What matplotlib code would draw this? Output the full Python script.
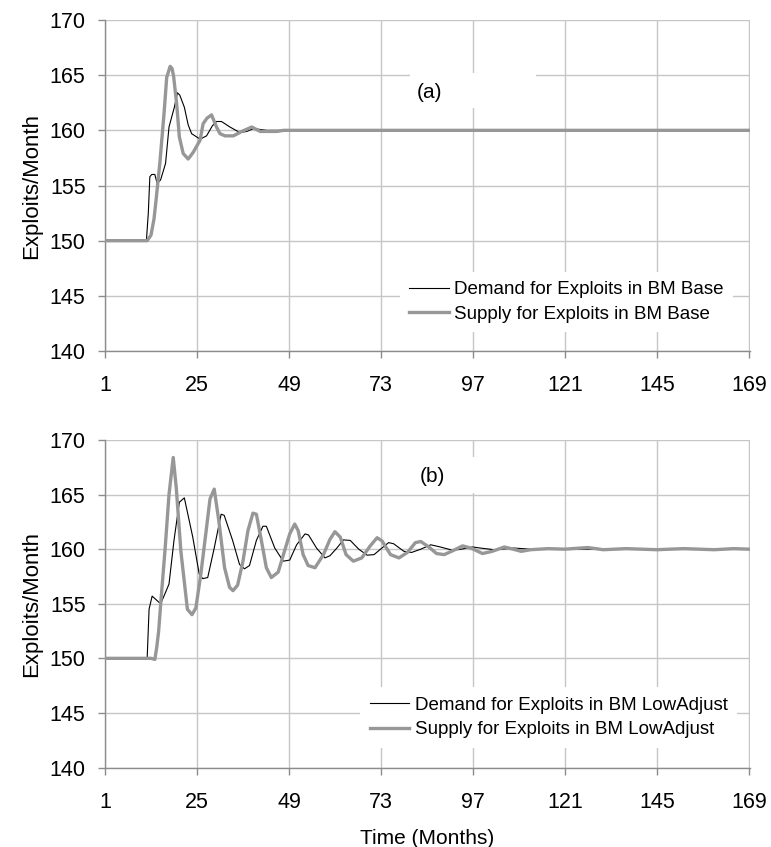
import matplotlib
matplotlib.use("Agg")
import matplotlib.pyplot as plt
from matplotlib.patches import Rectangle

plt.rcParams['font.family'] = ['Liberation Sans', 'DejaVu Sans']

# ---------------- data ----------------
xticks = [1, 25, 49, 73, 97, 121, 145, 169]
yticks = [140, 145, 150, 155, 160, 165, 170]

# Panel (a) : BM Base
a_demand_t = [1, 11.8, 12.3, 12.7, 13.2, 14.0, 14.6, 15.5, 16.8, 17.7, 19.1, 19.9, 20.5,
              21.7, 22.7, 23.6, 25.8, 27.5, 29.0, 30.1, 31.4, 33.6, 36.2, 38.0, 39.7,
              41.0, 43.2, 169]
a_demand_v = [150, 150, 152.5, 155.8, 156.0, 156.0, 155.2, 155.5, 157.0, 160.3, 162.1, 163.4, 163.2,
              162.1, 160.5, 159.7, 159.2, 159.5, 160.4, 160.8, 160.8, 160.3, 159.8, 159.9, 160.15,
              160.1, 160.0, 160]
a_supply_t = [1, 12.0, 13.0, 13.8, 14.3, 15.3, 16.4, 17.1, 18.0, 18.5, 18.9, 19.7, 20.4,
              21.4, 22.7, 24.0, 25.8, 26.6, 27.6, 28.8, 30.1, 31.0, 32.3, 34.5, 36.7,
              39.3, 41.5, 45.8, 47.6, 169]
a_supply_v = [150, 150, 150.5, 152.0, 153.6, 157.0, 161.5, 164.8, 165.8, 165.6, 164.9, 162.4, 159.4,
              157.9, 157.4, 158.0, 159.1, 160.6, 161.1, 161.4, 160.3, 159.7, 159.5, 159.5, 159.9,
              160.3, 159.9, 159.9, 160.0, 160]

# Panel (b) : BM LowAdjust
b_demand_t = [1, 12.0, 12.5, 13.3, 15.5, 16.5, 17.7, 19.0, 20.4, 21.7, 23.9, 25.6, 26.5,
              27.8, 29.5, 31.3, 32.1, 34.3, 36.1, 37.4, 38.7, 40.5, 42.2, 43.1, 45.3,
              47.5, 49.2, 51.0, 53.2, 54.1, 56.2, 58.4, 59.7, 61.5, 63.2, 65.0, 67.2,
              69.4, 71.2, 72.9, 75.0, 76.3, 79.0, 81.0, 83.4, 86.0, 88.5, 91.7, 94.0,
              96.9, 99.0, 102.5, 107.8, 112.0, 169]
b_demand_v = [150, 150, 154.5, 155.7, 155.0, 155.8, 156.8, 160.8, 164.3, 164.7, 161.1, 157.7, 157.3,
              157.4, 160.1, 163.2, 163.1, 160.8, 158.6, 158.2, 158.5, 160.8, 162.1, 162.1, 160.1,
              158.9, 159.0, 160.4, 161.4, 161.3, 160.1, 159.2, 159.4, 160.1, 160.85, 160.8, 160.0,
              159.45, 159.5, 160.0, 160.6, 160.5, 159.8, 159.7, 160.0, 160.4, 160.2, 159.9, 160.0,
              160.2, 160.1, 159.95, 160.1, 160.0, 160]
b_supply_t = [1, 13.0, 14.0, 14.5, 15.0, 15.6, 16.7, 17.7, 18.8, 19.6, 20.8, 22.5, 23.7,
              24.7, 26.0, 27.4, 28.4, 29.5, 30.7, 32.2, 33.5, 34.4, 35.6, 37.0, 38.3,
              39.6, 40.5, 41.8, 43.1, 44.4, 46.2, 47.3, 49.2, 50.5, 51.4, 52.7, 54.0,
              55.8, 58.0, 59.7, 61.0, 62.4, 63.9, 65.8, 68.0, 70.2, 72.0, 73.3, 75.5,
              77.7, 79.9, 82.0, 83.4, 85.5, 87.5, 89.5, 92.0, 94.3, 96.5, 99.5, 102.0,
              105.2, 107.5, 109.6, 112.0, 116.6, 121.0, 127.0, 131.0, 137.0, 145.0, 152.0,
              160.0, 165.0, 169]
b_supply_v = [150, 150, 149.9, 151.0, 152.5, 155.3, 160.1, 165.0, 168.4, 165.6, 159.8, 154.5, 154.0,
              154.6, 157.7, 161.7, 164.6, 165.5, 162.6, 158.3, 156.5, 156.2, 156.7, 158.9, 161.7,
              163.3, 163.2, 160.8, 158.3, 157.4, 157.9, 159.2, 161.4, 162.3, 161.7, 159.5, 158.5,
              158.3, 159.5, 160.9, 161.6, 161.1, 159.5, 158.9, 159.2, 160.3, 161.05, 160.75, 159.5,
              159.2, 159.7, 160.6, 160.7, 160.2, 159.6, 159.5, 159.9, 160.3, 160.1, 159.6, 159.8,
              160.2, 160.0, 159.8, 159.95, 160.05, 160.0, 160.15, 159.95, 160.05, 159.95, 160.05,
              159.95, 160.05, 160]

panels = [
    dict(dt=a_demand_t, dv=a_demand_v, st=a_supply_t, sv=a_supply_v, tag="(a)",
         dlab="Demand for Exploits in BM Base", slab="Supply for Exploits in BM Base"),
    dict(dt=b_demand_t, dv=b_demand_v, st=b_supply_t, sv=b_supply_v, tag="(b)",
         dlab="Demand for Exploits in BM LowAdjust", slab="Supply for Exploits in BM LowAdjust"),
]

W, H = 771, 847
fig = plt.figure(figsize=(W / 100, H / 100), dpi=100)
rects = [
    [105 / W, (H - 351) / H, 645 / W, 331 / H],
    [105 / W, (H - 767.5) / H, 645 / W, 327.5 / H],
]
tag_pos = [(0.503, 0.782), (0.507, 0.888)]
tag_box = [(0.473, 0.734, 0.195, 0.107), (0.473, 0.838, 0.195, 0.110)]
leg_anchor = [(0.974, 0.057), (0.98, 0.06)]
grid_c = "#c6c6c6"
spine_c = "#8c8c8c"

for i, (p, r) in enumerate(zip(panels, rects)):
    ax = fig.add_axes(r)
    ax.set_xlim(1, 169.3)
    ax.set_ylim(140, 170)
    ax.set_xticks(xticks)
    ax.set_yticks(yticks)
    ax.grid(True, color=grid_c, linewidth=1.0)
    ax.set_axisbelow(True)
    for s in ("top", "right"):
        ax.spines[s].set_visible(False)
    for s in ("left", "bottom"):
        ax.spines[s].set_color(spine_c)
        ax.spines[s].set_linewidth(1.0)
    ax.tick_params(axis="both", colors=spine_c, labelcolor="black", labelsize=15.5,
                   length=5, width=1.0, direction="out")
    ax.tick_params(axis="x", pad=12.5)
    ax.tick_params(axis="y", pad=9)
    ax.set_ylabel("Exploits/Month", fontsize=16, labelpad=5)

    ax.plot(p["dt"], p["dv"], color="black", linewidth=0.8, label=p["dlab"], zorder=3)
    ax.plot(p["st"], p["sv"], color="#979797", linewidth=2.4, label=p["slab"], zorder=4)

    bx, by, bw, bh = tag_box[i]
    ax.add_patch(Rectangle((bx, by), bw, bh, transform=ax.transAxes,
                           facecolor="white", edgecolor="none", zorder=1.5))
    ax.text(tag_pos[i][0], tag_pos[i][1], p["tag"], transform=ax.transAxes, fontsize=15,
            ha="center", va="center", zorder=2)

    ax.legend(loc="lower right", bbox_to_anchor=leg_anchor[i],
              fontsize=13.5, frameon=True, fancybox=False, framealpha=1.0,
              edgecolor="none", handlelength=2.1, handletextpad=0.3,
              labelspacing=0.4, borderpad=0.5, borderaxespad=0.0)
    if i == 1:
        ax.set_xlabel("Time (Months)", fontsize=15, labelpad=12)

fig.savefig("out.png", dpi=100)
